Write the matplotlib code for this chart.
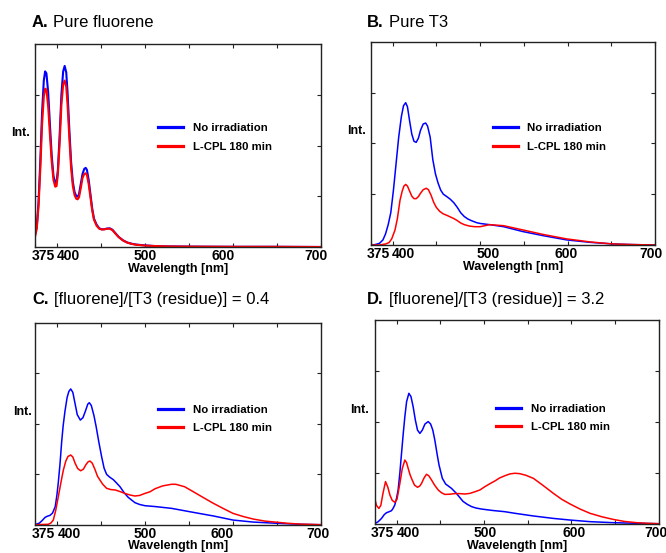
import matplotlib
matplotlib.use('Agg')
import matplotlib.pyplot as plt
import matplotlib.transforms as mtransforms

plt.rcParams['font.family'] = ['Liberation Sans', 'DejaVu Sans']

# ---------------- data (intensity, normalised to the frame height) ----------------
series_labels = ['No irradiation', 'L-CPL 180 min']
titles_letter = ['A.', 'B.', 'C.', 'D.']
titles_text = ['Pure fluorene', 'Pure T3',
               '[fluorene]/[T3 (residue)] = 0.4',
               '[fluorene]/[T3 (residue)] = 3.2']
xtick_major = [375, 400, 500, 600, 700]
xtick_labels = ['375', '400', '500', '600', '700']
xtick_minor = [450, 550, 650]

# Panel A: pure fluorene
a_wl = [375, 377, 379, 381, 383, 385, 386.5, 388, 390, 392, 394, 396, 398, 399.5, 401, 403,
        405, 407, 408.7, 410.5, 412, 414, 416, 418, 420, 422, 423.5, 425, 427, 429, 431,
        432.6, 434, 436, 438, 440, 442, 445, 448, 451, 454, 457, 460, 463, 466, 470, 475,
        480, 485, 490, 500, 510, 525, 550, 600, 650, 700]
a_none = [0.06, 0.10, 0.22, 0.42, 0.66, 0.82, 0.865, 0.855, 0.76, 0.60, 0.45, 0.35, 0.315,
          0.32, 0.38, 0.55, 0.75, 0.865, 0.892, 0.86, 0.76, 0.58, 0.42, 0.32, 0.27, 0.25,
          0.248, 0.26, 0.31, 0.36, 0.385, 0.39, 0.38, 0.33, 0.26, 0.19, 0.14, 0.11, 0.092,
          0.087, 0.088, 0.091, 0.092, 0.085, 0.07, 0.05, 0.033, 0.022, 0.016, 0.012, 0.008,
          0.005, 0.003, 0.002, 0.001, 0.001, 0.0]
a_cpl = [0.05, 0.09, 0.20, 0.38, 0.60, 0.74, 0.78, 0.775, 0.69, 0.55, 0.42, 0.33, 0.297,
         0.30, 0.36, 0.51, 0.70, 0.80, 0.82, 0.79, 0.70, 0.54, 0.39, 0.30, 0.255, 0.237,
         0.235, 0.245, 0.29, 0.34, 0.36, 0.363, 0.355, 0.31, 0.245, 0.18, 0.135, 0.105,
         0.09, 0.086, 0.087, 0.09, 0.09, 0.083, 0.068, 0.049, 0.032, 0.021, 0.015, 0.011,
         0.007, 0.005, 0.003, 0.002, 0.001, 0.001, 0.0]

# Panel B: pure T3
b_wl_none = [375, 380, 385, 389, 392, 395, 398, 401, 404, 407, 410, 412.5, 415, 417, 419.5,
             422, 424.5, 427, 429.5, 432, 435, 437.8, 440, 443, 446, 449, 452, 455, 458,
             462, 466, 470, 474, 478, 482, 486, 490, 496, 500, 511, 527, 549, 572, 599,
             626, 652, 675, 700]
b_none = [0.0, 0.002, 0.008, 0.025, 0.055, 0.10, 0.16, 0.27, 0.40, 0.53, 0.63, 0.685, 0.70,
          0.68, 0.61, 0.545, 0.51, 0.505, 0.525, 0.565, 0.595, 0.60, 0.585, 0.53, 0.42,
          0.35, 0.305, 0.27, 0.25, 0.238, 0.225, 0.208, 0.185, 0.158, 0.14, 0.128, 0.12,
          0.11, 0.106, 0.10, 0.09, 0.066, 0.046, 0.025, 0.013, 0.005, 0.002, 0.0]
b_wl_cpl = [375, 385, 392, 396, 399, 402.8, 405.5, 408.5, 411, 413, 415, 417, 419.5, 422,
            424.5, 427, 429.5, 432, 435, 438.5, 441, 444, 447, 450, 454, 458, 462, 466,
            470, 474, 478, 482, 488, 494, 500, 511, 527, 549, 572, 599, 626, 652, 675, 700]
b_cpl = [0.0, 0.0, 0.005, 0.012, 0.03, 0.074, 0.13, 0.22, 0.265, 0.29, 0.298, 0.29, 0.265,
         0.24, 0.228, 0.228, 0.238, 0.255, 0.272, 0.279, 0.272, 0.245, 0.21, 0.185, 0.165,
         0.153, 0.146, 0.138, 0.13, 0.12, 0.108, 0.10, 0.093, 0.09, 0.09, 0.10, 0.095,
         0.074, 0.052, 0.03, 0.015, 0.005, 0.002, 0.0]

# Panel C: [fluorene]/[T3] = 0.4
c_wl_none = [375, 380, 383, 386.4, 389, 392, 395, 398, 400, 401.5, 403.4, 405.3, 407, 409,
             411.5, 413.5, 415.6, 418, 420.5, 423, 426.5, 429.5, 432.5, 435, 436.7, 439,
             442, 444.5, 447.5, 450.7, 453.5, 456.4, 460, 464, 468, 471.6, 476, 481, 488.6,
             494, 500, 511, 530, 555, 578, 600, 623, 650, 676, 700]
c_none = [0.0, 0.008, 0.02, 0.036, 0.042, 0.046, 0.058, 0.09, 0.15, 0.21, 0.30, 0.41, 0.49,
          0.56, 0.63, 0.66, 0.672, 0.655, 0.60, 0.545, 0.518, 0.53, 0.565, 0.597, 0.604,
          0.59, 0.54, 0.485, 0.41, 0.337, 0.28, 0.249, 0.235, 0.223, 0.205, 0.188, 0.16,
          0.135, 0.109, 0.10, 0.094, 0.09, 0.081, 0.061, 0.043, 0.023, 0.013, 0.007,
          0.002, 0.0]
c_wl_cpl = [375, 390, 393, 395.8, 398.5, 401.5, 404.5, 407.2, 410, 412.5, 415.6, 418, 420.5,
            423.5, 426.9, 430, 433, 435.5, 437.5, 440, 443, 446, 448.8, 452, 456.4, 461,
            466, 471, 477, 483, 488.6, 494, 500, 505.7, 511.4, 520, 530, 535, 545, 555,
            566, 577.6, 589, 600, 612, 623, 636, 650, 662, 676, 700]
c_cpl = [0.0, 0.002, 0.008, 0.023, 0.07, 0.139, 0.21, 0.27, 0.315, 0.338, 0.345, 0.335,
         0.305, 0.278, 0.267, 0.275, 0.298, 0.312, 0.315, 0.305, 0.275, 0.24, 0.221, 0.20,
         0.18, 0.174, 0.172, 0.165, 0.155, 0.147, 0.142, 0.145, 0.155, 0.163, 0.178,
         0.192, 0.20, 0.20, 0.188, 0.163, 0.135, 0.106, 0.08, 0.056, 0.04, 0.028, 0.018,
         0.012, 0.007, 0.003, 0.0]

# Panel D: [fluorene]/[T3] = 3.2
d_wl_none = [375, 379, 382.8, 386, 388.5, 391, 394.2, 396, 398, 400, 401.8, 403.8, 405.7,
             407.6, 409.5, 411.5, 414.1, 416.5, 419, 421.5, 424, 426.7, 429.5, 432.5,
             436.2, 439, 441.5, 443.8, 446.5, 448.6, 452.4, 456.2, 462.8, 468.5, 476, 481,
             485.8, 491, 497.3, 510, 524, 535.6, 556.6, 579.5, 598.5, 621.4, 648, 675, 700]
d_none = [0.0, 0.01, 0.026, 0.045, 0.054, 0.058, 0.064, 0.075, 0.092, 0.125, 0.166, 0.25,
          0.346, 0.44, 0.526, 0.60, 0.641, 0.625, 0.575, 0.51, 0.46, 0.444, 0.46, 0.49,
          0.502, 0.49, 0.46, 0.411, 0.34, 0.289, 0.223, 0.195, 0.174, 0.149, 0.11, 0.095,
          0.084, 0.077, 0.072, 0.065, 0.059, 0.051, 0.038, 0.026, 0.018, 0.01, 0.005,
          0.002, 0.0]
d_wl_cpl = [375, 377, 379.8, 382, 384.5, 387.4, 390, 392.4, 395, 398, 400.5, 403.8, 406.5,
            409.5, 411.5, 413.3, 415.5, 417.9, 420.5, 424, 426.5, 428.6, 431.5, 434.3, 437,
            440, 443.5, 447.6, 451.5, 455.3, 461, 466.7, 472, 478.2, 484, 489.6, 495.5,
            501, 507, 512.5, 518, 524, 530, 535.6, 541, 548, 556.6, 568, 579.5, 589, 598.5,
            610, 621.4, 635, 648.1, 661, 674.8, 687, 700]
d_cpl = [0.125, 0.09, 0.075, 0.09, 0.15, 0.207, 0.18, 0.141, 0.115, 0.105, 0.12, 0.198,
         0.27, 0.313, 0.30, 0.272, 0.24, 0.215, 0.19, 0.179, 0.185, 0.198, 0.225, 0.243,
         0.235, 0.215, 0.19, 0.166, 0.152, 0.144, 0.145, 0.148, 0.148, 0.146, 0.149, 0.157,
         0.166, 0.182, 0.197, 0.21, 0.225, 0.236, 0.245, 0.248, 0.246, 0.238, 0.223, 0.187,
         0.149, 0.12, 0.097, 0.072, 0.051, 0.034, 0.021, 0.011, 0.005, 0.002, 0.0]

# ---------------- layout ----------------
W, H = 666, 553
fig = plt.figure(figsize=(W / 100, H / 100), dpi=100)

panels = [
    dict(box=(35, 44, 321, 247), data=(a_wl, a_none, a_wl, a_cpl), lw=1.5,
         title_xy=(32, 26.7), tick_dx=[8, 11, 0, -10, -5], int_gap=5.5, leg=(0.431, 0.59)),
    dict(box=(370.7, 41.7, 655, 245), data=(b_wl_none, b_none, b_wl_cpl, b_cpl), lw=1.1,
         title_xy=(367.3, 26.7), tick_dx=[8, 11, 8, -1, -4], int_gap=4.5, leg=(0.430, 0.579)),
    dict(box=(35, 322.7, 321, 524.7), data=(c_wl_none, c_none, c_wl_cpl, c_cpl), lw=1.1,
         title_xy=(32.3, 304.3), tick_dx=[8, 12, 0, -11, -3], int_gap=3.0, leg=(0.431, 0.574)),
    dict(box=(374.7, 320.3, 658.7, 523.7), data=(d_wl_none, d_none, d_wl_cpl, d_cpl), lw=1.1,
         title_xy=(367.3, 304.3), tick_dx=[8, 12, 1, 2.5, -3], int_gap=5.5, leg=(0.428, 0.570)),
]

for i, p in enumerate(panels):
    x0, y0, x1, y1 = p['box']
    rect = (x0 / W, 1 - y1 / H, (x1 - x0) / W, (y1 - y0) / H)
    ax = fig.add_axes(rect)
    wl_n, v_n, wl_c, v_c = p['data']
    ax.plot(wl_n, v_n, color='#0000ff', lw=p['lw'], label=series_labels[0])
    ax.plot(wl_c, v_c, color='#ff0000', lw=p['lw'], label=series_labels[1])
    ax.set_xlim(375, 700)
    ax.set_ylim(0, 1)
    ax.set_xticks(xtick_major)
    ax.set_xticks(xtick_minor, minor=True)
    ax.set_yticks([0.25, 0.5, 0.75])
    ax.tick_params(which='both', direction='in', top=True, right=True, length=3,
                   width=0.8, color='#222222', labelbottom=False, labelleft=False)
    for s in ax.spines.values():
        s.set_linewidth(1.0)
        s.set_color('#222222')

    # x tick labels
    for v, lab, dx in zip(xtick_major, xtick_labels, p['tick_dx']):
        tr = ax.get_xaxis_transform() + mtransforms.ScaledTranslation(
            dx / 100, -2.5 / 100, fig.dpi_scale_trans)
        ax.text(v, 0, lab, transform=tr, ha='center', va='top', fontsize=10,
                fontweight='bold', clip_on=False)

    # axis labels
    ax.set_xlabel('Wavelength [nm]', fontsize=9, fontweight='bold', va='center')
    ax.xaxis.set_label_coords(0.5, -21.8 / (y1 - y0))
    ax.text(-p['int_gap'] / (x1 - x0), 0.56, 'Int.', transform=ax.transAxes, ha='right',
            va='center', fontsize=9, fontweight='bold')

    # legend
    lx, ly = p['leg']
    ax.legend(loc='upper left', bbox_to_anchor=(lx, ly + 4.2 / (y1 - y0)), frameon=False,
              borderpad=0, borderaxespad=0, handlelength=2.2, handletextpad=0.82,
              labelspacing=0.77, prop=dict(size=8.2, weight='bold'))
    for line in ax.get_legend().get_lines():
        line.set_linewidth(2.3)

    # panel title
    tx, ty = p['title_xy']
    t = fig.text(tx / W, 1 - ty / H, titles_letter[i], fontsize=12, fontweight='bold',
                 ha='left', va='baseline')
    ax.annotate(titles_text[i], xy=(1, 0), xycoords=t, xytext=(3.5, 0),
                textcoords='offset points', ha='left', va='bottom', fontsize=12,
                annotation_clip=False)

fig.savefig('out.png', dpi=100)
